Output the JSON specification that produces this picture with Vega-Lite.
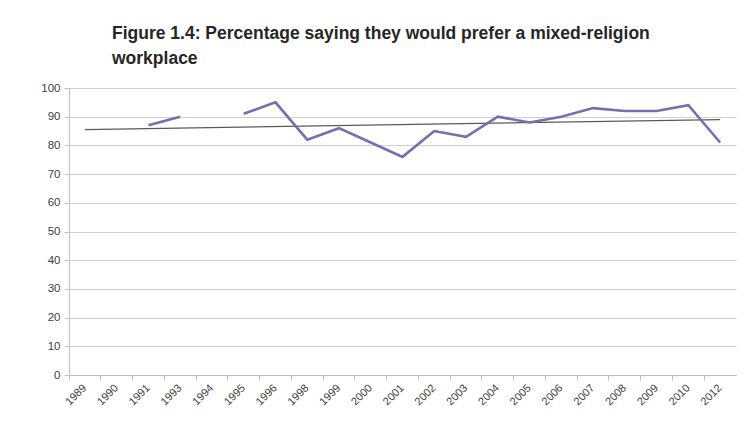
{
  "$schema": "https://vega.github.io/schema/vega-lite/v6.json",
  "width": 667,
  "height": 287,
  "autosize": "none",
  "padding": {"left": 69, "top": 88, "right": 14, "bottom": 55},
  "background": "white",
  "title": {
    "text": ["Figure 1.4: Percentage saying they would prefer a mixed-religion", "workplace"],
    "anchor": "start",
    "frame": "group",
    "dx": 43,
    "offset": 15,
    "font": "Liberation Sans",
    "fontSize": 17.5,
    "fontWeight": "bold",
    "color": "#262626",
    "lineHeight": 25
  },
  "datasets": {
    "survey": [
      {"year": "1989", "pct": null},
      {"year": "1990", "pct": null},
      {"year": "1991", "pct": 87},
      {"year": "1993", "pct": 90},
      {"year": "1994", "pct": null},
      {"year": "1995", "pct": 91},
      {"year": "1996", "pct": 95},
      {"year": "1998", "pct": 82},
      {"year": "1999", "pct": 86},
      {"year": "2000", "pct": 81},
      {"year": "2001", "pct": 76},
      {"year": "2002", "pct": 85},
      {"year": "2003", "pct": 83},
      {"year": "2004", "pct": 90},
      {"year": "2005", "pct": 88},
      {"year": "2006", "pct": 90},
      {"year": "2007", "pct": 93},
      {"year": "2008", "pct": 92},
      {"year": "2009", "pct": 92},
      {"year": "2010", "pct": 94},
      {"year": "2012", "pct": 81}
    ],
    "trend": [
      {"year": "1989", "pct": 85.5},
      {"year": "2012", "pct": 89.0}
    ]
  },
  "encoding": {
    "x": {
      "field": "year",
      "type": "ordinal",
      "title": null,
      "scale": {
        "type": "band",
        "paddingInner": 0,
        "paddingOuter": 0,
        "domain": ["1989", "1990", "1991", "1993", "1994", "1995", "1996", "1998", "1999", "2000", "2001", "2002", "2003", "2004", "2005", "2006", "2007", "2008", "2009", "2010", "2012"]
      },
      "axis": {
        "bandPosition": 0,
        "labelAngle": -45,
        "labelAlign": "right",
        "labelBaseline": "middle",
        "labelFont": "Liberation Sans",
        "labelFontSize": 11,
        "labelColor": "#404040",
        "labelPadding": 6,
        "domainColor": "#bfbfbf",
        "tickColor": "#bfbfbf",
        "tickSize": 5
      }
    },
    "y": {
      "field": "pct",
      "type": "quantitative",
      "title": null,
      "scale": {"domain": [0, 100], "nice": false, "zero": true},
      "axis": {
        "values": [0, 10, 20, 30, 40, 50, 60, 70, 80, 90, 100],
        "labelFont": "Liberation Sans",
        "labelFontSize": 11.5,
        "labelColor": "#404040",
        "labelPadding": 4,
        "gridColor": "#d0d0d0",
        "domainColor": "#bfbfbf",
        "tickColor": "#bfbfbf",
        "tickSize": 5
      }
    }
  },
  "layer": [
    {
      "data": {"name": "trend"},
      "mark": {"type": "line", "color": "#595959", "strokeWidth": 1.3}
    },
    {
      "data": {"name": "survey"},
      "mark": {"type": "line", "color": "#7b6cae", "strokeWidth": 2.6, "invalid": "break-paths-show-domains"}
    }
  ],
  "config": {
    "view": {"stroke": null}
  }
}
